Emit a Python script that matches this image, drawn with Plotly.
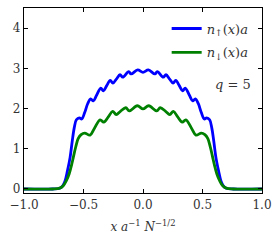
import plotly.graph_objects as go

# Spin-up density n_up(x) a
x_up = [-1.0, -0.76, -0.70, -0.675, -0.655, -0.635, -0.613, -0.595, -0.578, -0.56,
        -0.535, -0.515, -0.49, -0.465, -0.44, -0.418, -0.39, -0.355, -0.333, -0.305,
        -0.275, -0.253, -0.222, -0.193, -0.17, -0.12, -0.10, -0.045, 0.0,
        0.045, 0.10, 0.12, 0.17, 0.193, 0.222, 0.253, 0.275, 0.305, 0.333, 0.355,
        0.39, 0.418, 0.44, 0.465, 0.49, 0.515, 0.535, 0.56, 0.578, 0.595, 0.613,
        0.635, 0.655, 0.675, 0.70, 0.76, 1.0]
n_up = [0.0, 0.0, 0.02, 0.08, 0.2, 0.45, 0.78, 1.18, 1.52, 1.72,
        1.77, 1.74, 1.9, 2.12, 2.24, 2.19, 2.33, 2.51, 2.44, 2.57,
        2.70, 2.63, 2.74, 2.84, 2.78, 2.92, 2.86, 2.96, 2.90,
        2.96, 2.86, 2.92, 2.78, 2.84, 2.74, 2.63, 2.70, 2.57, 2.44, 2.51,
        2.33, 2.19, 2.24, 2.12, 1.9, 1.74, 1.77, 1.72, 1.52, 1.18, 0.78,
        0.45, 0.2, 0.08, 0.02, 0.0, 0.0]

# Spin-down density n_down(x) a
x_dn = [-1.0, -0.76, -0.70, -0.67, -0.645, -0.62, -0.60, -0.586, -0.565, -0.545,
        -0.52, -0.49, -0.445, -0.41, -0.36, -0.33, -0.29, -0.255, -0.225, -0.19,
        -0.145, -0.115, -0.048, 0.0,
        0.048, 0.115, 0.145, 0.19, 0.225, 0.255, 0.29, 0.33, 0.36, 0.41,
        0.445, 0.49, 0.52, 0.545, 0.565, 0.586, 0.60, 0.62, 0.645, 0.67,
        0.70, 0.76, 1.0]
n_dn = [0.0, 0.0, 0.02, 0.08, 0.2, 0.38, 0.6, 0.78, 1.05, 1.25,
        1.35, 1.39, 1.34, 1.5, 1.72, 1.66, 1.8, 1.93, 1.85, 1.93,
        2.02, 1.94, 2.07, 1.99,
        2.07, 1.94, 2.02, 1.93, 1.85, 1.93, 1.8, 1.66, 1.72, 1.5,
        1.34, 1.39, 1.35, 1.25, 1.05, 0.78, 0.6, 0.38, 0.2, 0.08,
        0.02, 0.0, 0.0]

x_ticks = [-1.0, -0.5, 0.0, 0.5, 1.0]
x_tick_labels = ["\u22121.0", "\u22120.5", "0.0", "0.5", "1.0"]
y_ticks = [0, 1, 2, 3, 4]

FONT = "DejaVu Serif, Liberation Serif, serif"

fig = go.Figure()
fig.add_trace(go.Scatter(
    x=x_up, y=n_up, mode="lines",
    line=dict(color="#0000ff", width=2.8, shape="spline", smoothing=1.0),
    name="<i>n</i><sub>\u2191</sub>(<i>x</i>)<i>a</i>", legendgroup="a"))
fig.add_trace(go.Scatter(
    x=x_dn, y=n_dn, mode="lines",
    line=dict(color="#008000", width=2.8, shape="spline", smoothing=1.0),
    name="<i>n</i><sub>\u2193</sub>(<i>x</i>)<i>a</i>", legendgroup="b"))

axis_common = dict(
    showline=True, linecolor="black", linewidth=1.2, mirror="ticks",
    ticks="inside", ticklen=4, tickwidth=1, tickcolor="black",
    showgrid=False, zeroline=False, automargin=False,
    tickfont=dict(family=FONT, size=12, color="#333"),
)

fig.update_xaxes(range=[-1, 1], tickvals=x_ticks, ticktext=x_tick_labels,
                 title=dict(text="<i>x a</i><sup>\u22121</sup> <i>N</i><sup>\u22121/2</sup>",
                            font=dict(family=FONT, size=12, color="#333"), standoff=12),
                 **axis_common)
fig.update_yaxes(range=[-0.1, 4.5], tickvals=y_ticks, **axis_common)

fig.add_annotation(x=0.962, y=0.584, xref="paper", yref="paper",
                   text="<i>q</i> = 5", showarrow=False, xanchor="right",
                   font=dict(family=FONT, size=13, color="#333"))

fig.update_layout(
    width=280, height=240,
    margin=dict(l=24, r=18, t=8, b=47),
    paper_bgcolor="white", plot_bgcolor="white",
    showlegend=True,
    legend=dict(x=0.965, y=0.97, xanchor="right", yanchor="top",
                bgcolor="rgba(0,0,0,0)", traceorder="grouped", tracegroupgap=4,
                itemwidth=30,
                font=dict(family=FONT, size=13, color="#333")),
)

fig.write_html("out.html", config={"displayModeBar": False},
               post_script="document.body.style.margin='0';")
